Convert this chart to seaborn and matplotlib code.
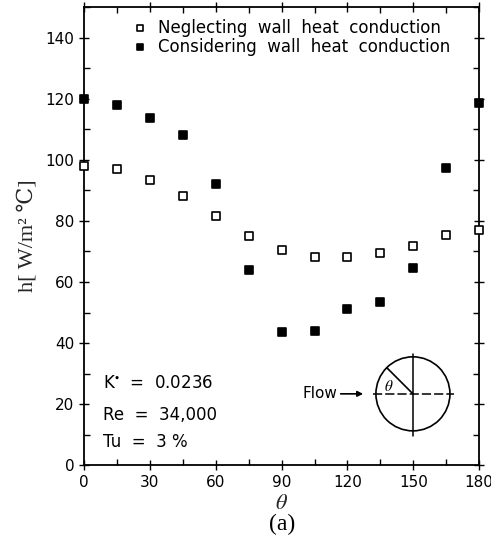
"""
Local heat transfer coefficient around a cylinder.
"""

import numpy as np
import pandas as pd
import matplotlib
matplotlib.use("Agg")
import matplotlib.pyplot as plt
import seaborn as sns
from matplotlib.patches import Circle, Arc
from matplotlib.ticker import MultipleLocator

sns.set_style("ticks", {"axes.edgecolor": "black", "xtick.color": "black",
                        "ytick.color": "black", "text.color": "black"})
plt.rcParams["font.family"] = ["DejaVu Sans"]
plt.rcParams["mathtext.fontset"] = "stix"

# data
theta = [0, 15, 30, 45, 60, 75, 90, 105, 120, 135, 150, 165, 180]
h_neglect = [98.1, 96.9, 93.4, 88.2, 81.5, 75.1, 70.4, 68.2, 68.2, 69.4, 71.8, 75.3, 77.1]
h_consider = [120, 118, 113.8, 108.2, 92, 64, 43.7, 44, 51, 53.4, 64.7, 97.3, 118.5]

labels = ["Neglecting  wall  heat  conduction",
          "Considering  wall  heat  conduction"]
x_ticks = [0, 30, 60, 90, 120, 150, 180]
y_ticks = [0, 20, 40, 60, 80, 100, 120, 140]

df = pd.DataFrame({
    "theta": theta * 2,
    "h": h_neglect + h_consider,
    "case": [labels[0]] * len(theta) + [labels[1]] * len(theta),
})

serif = ["Liberation Serif", "DejaVu Serif"]

fig = plt.figure(figsize=(4.91, 5.41), dpi=100)
ax = fig.add_axes([0.171, 0.140, 0.805, 0.847])

sns.scatterplot(
    data=df[df["case"] == labels[0]], x="theta", y="h",
    marker="s", s=40, facecolor="white", edgecolor="black",
    linewidth=1.2, label=labels[0], ax=ax, clip_on=False, zorder=3
)
sns.scatterplot(
    data=df[df["case"] == labels[1]], x="theta", y="h",
    marker="s", s=40, facecolor="black", edgecolor="black",
    linewidth=1.2, label=labels[1], ax=ax, clip_on=False, zorder=3
)

ax.set_xlim(0, 180)
ax.set_ylim(0, 150)
ax.set_xticks(x_ticks)
ax.set_yticks(y_ticks)
ax.xaxis.set_minor_locator(MultipleLocator(15))
ax.yaxis.set_minor_locator(MultipleLocator(10))
ax.tick_params(which="major", direction="inout", length=7, width=1,
               top=True, right=True, labelsize=11, colors="black")
ax.tick_params(which="minor", direction="in", length=4, width=1,
               top=True, right=True)
for sp in ax.spines.values():
    sp.set_linewidth(1.3)
    sp.set_visible(True)
    sp.set_color("black")

ax.set_xlabel(r"$\theta$", fontsize=16, labelpad=2)
ax.set_ylabel("h[ W/m² ℃]", fontsize=16, family=serif, labelpad=6)
fig.text(0.575, 0.030, "(a)", fontsize=17, ha="center", va="center",
         family=serif)

leg = ax.legend(loc="upper left", bbox_to_anchor=(0.07, 1.0), frameon=False,
                fontsize=12, handletextpad=0.1, markerscale=0.7,
                labelspacing=0.05, borderaxespad=0.3)

# parameters
ax.text(0.048, 0.179, "K$^{\\bullet}$  =  0.0236", transform=ax.transAxes,
        fontsize=12, va="center")
ax.text(0.048, 0.109, "Re  =  34,000", transform=ax.transAxes,
        fontsize=12, va="center")
ax.text(0.048, 0.050, "Tu  =  3 %", transform=ax.transAxes,
        fontsize=12, va="center")

# flow sketch in pixel-like units
ins = fig.add_axes([0.841 - 0.0917, 0.272 - 0.0832, 0.1834, 0.1664])
ins.set_xlim(-45, 45)
ins.set_ylim(-45, 45)
ins.set_aspect("equal")
ins.axis("off")
ins.add_patch(Circle((0, 0), 37, fill=False, lw=1.2, color="black"))
ins.plot([-40, 41], [0, 0], color="black", lw=1.1, ls=(0, (6, 2)))
ins.plot([0, 0], [-42, 40], color="black", lw=1.1)
ang = np.deg2rad(135)
ins.plot([0, 37 * np.cos(ang)], [0, 37 * np.sin(ang)], color="black", lw=1.2)
ins.add_patch(Arc((0, 0), 24, 24, theta1=135, theta2=180, lw=1))
ins.text(-24, 7, r"$\theta$", fontsize=11, ha="center", va="center")
ins.annotate("", xy=(-47, 0), xytext=(-75, 0),
             arrowprops=dict(arrowstyle="-|>", color="black", lw=1.2,
                             mutation_scale=8),
             annotation_clip=False)
ins.text(-76, 0, "Flow", fontsize=11, ha="right", va="center", clip_on=False)

fig.savefig("out.png", dpi=100)
plt.close(fig)
